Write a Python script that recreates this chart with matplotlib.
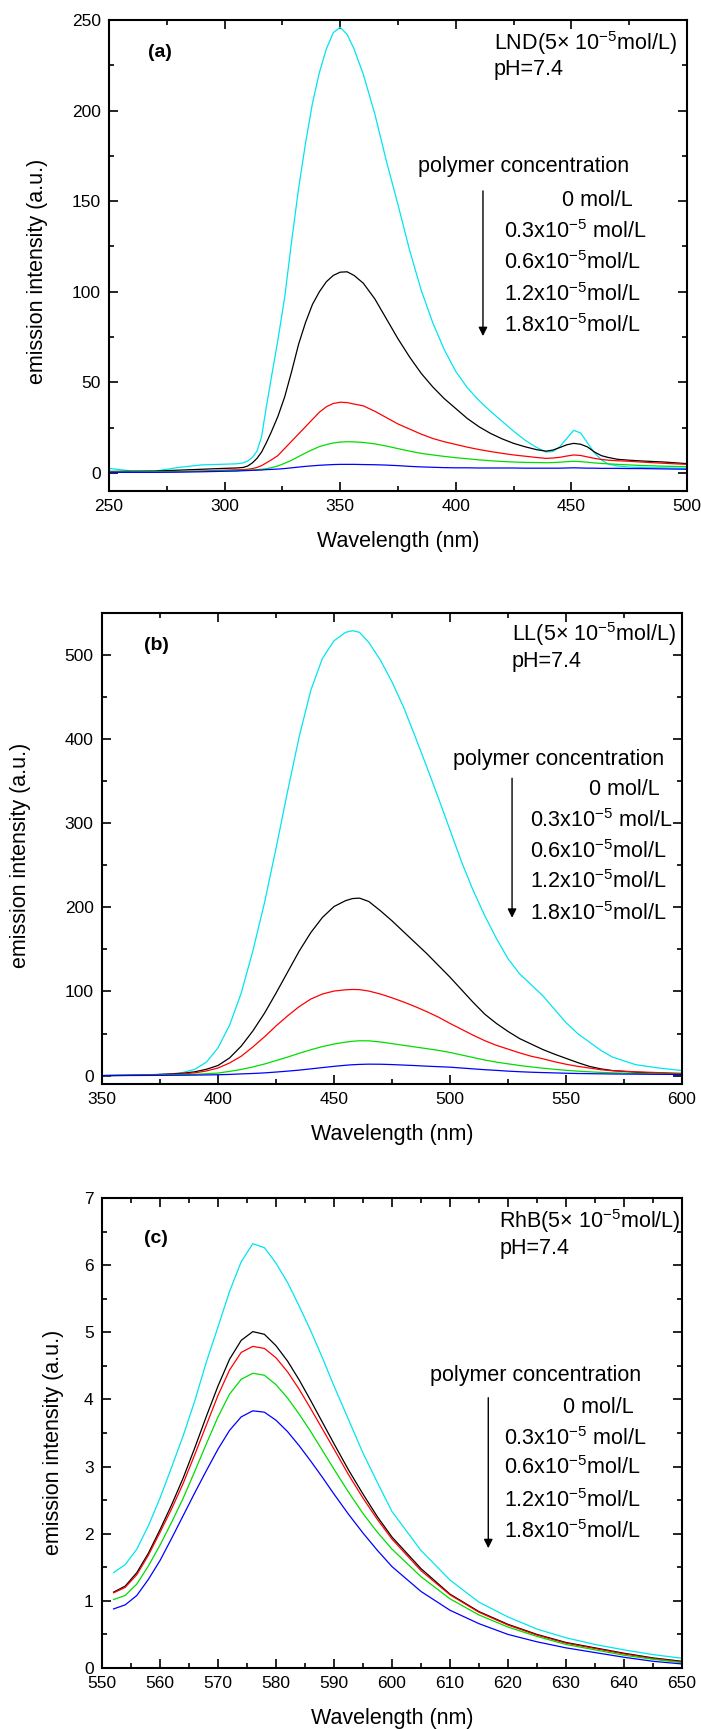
import numpy as np
import matplotlib
matplotlib.use("Agg")
import matplotlib.pyplot as plt
from matplotlib.ticker import MultipleLocator

plt.rcParams['font.family'] = ['Liberation Sans', 'DejaVu Sans']
plt.rcParams['mathtext.fontset'] = 'custom'
plt.rcParams['mathtext.rm'] = 'Liberation Sans'
plt.rcParams['mathtext.it'] = 'Liberation Sans:italic'
plt.rcParams['mathtext.bf'] = 'Liberation Sans:bold'

# ---- data ----
conc_labels = ['0 mol/L', r'0.3x10$^{-5}$ mol/L', r'0.6x10$^{-5}$mol/L',
               r'1.2x10$^{-5}$mol/L', r'1.8x10$^{-5}$mol/L']
series_colors = ['#00e5ee', 'black', 'red', '#00dd00', 'blue']

# (a) LND
wl_a = [250, 260, 270, 280, 290, 300, 305, 308, 310, 312, 314, 316, 318, 320, 323, 326,
        329, 332, 335, 338, 341, 344, 347, 350, 353, 356, 360, 365, 370, 375, 380, 385,
        390, 395, 400, 405, 410, 415, 420, 425, 430, 435, 439, 442, 445, 448, 451, 454,
        457, 460, 463, 466, 470, 475, 480, 490, 500]
lnd_0 = [2.5, 1.0, 1.0, 3.0, 4.4, 4.8, 5.0, 5.5, 6.6, 8.5, 12, 20, 36, 51, 73, 97,
         128, 157, 182, 204, 221, 234, 243, 246, 242, 234, 220, 198, 172, 148, 123, 101,
         83, 68, 56, 47, 40, 34, 28.5, 23, 18, 14, 11.5, 11.8, 14.5, 19, 23.5, 22,
         16.5, 11, 7.2, 4.8, 3.8, 3.2, 3.0, 2.8, 2.5]
lnd_03 = [0.8, 0.9, 1.0, 1.5, 2.0, 2.5, 2.7, 3.0, 3.8, 5.5, 8, 11.5, 16.5, 22, 31, 42,
          56, 71, 83, 93, 100, 105.5, 109, 110.8, 111, 109, 104.7, 96, 85, 74, 64, 55,
          47.5, 41, 35.5, 30, 25.5, 21.8, 18.8, 16.3, 14.4, 12.8, 12.0, 12.6, 14, 15.5, 16.3, 15.8,
          14.3, 11.5, 9.5, 8.5, 7.5, 7.0, 6.6, 6.0, 5.1]
lnd_06 = [0.5, 0.5, 0.6, 0.8, 1.0, 1.5, 1.7, 1.8, 2.0, 2.4, 3.0, 4.0, 5.5, 7.0, 9.5, 13.5,
          17.5, 21.5, 25.5, 29.5, 33.5, 36.5, 38.3, 39, 38.8, 38, 37, 34, 30.5, 27, 24.2, 21.4,
          19, 17.2, 15.7, 14.2, 12.9, 11.8, 10.8, 9.9, 9.2, 8.5, 8.0, 8.2, 8.6, 9.3, 9.9, 9.6,
          8.8, 8.0, 7.4, 7.0, 6.7, 6.4, 6.0, 5.3, 4.7]
lnd_12 = [0.5, 0.5, 0.6, 0.7, 0.9, 1.2, 1.3, 1.4, 1.5, 1.6, 1.8, 2.0, 2.3, 2.8, 3.8, 5.3,
          7, 9, 11, 12.8, 14.5, 15.6, 16.5, 17, 17.2, 17.1, 16.8, 16, 14.8, 13.4, 12, 10.8,
          9.9, 9.1, 8.4, 7.8, 7.2, 6.7, 6.3, 6.0, 5.8, 5.7, 5.6, 5.7, 5.9, 6.2, 6.4, 6.2,
          5.9, 5.5, 5.2, 5.0, 4.7, 4.4, 4.1, 3.7, 3.4]
lnd_18 = [0.3, 0.3, 0.3, 0.4, 0.6, 0.9, 1.0, 1.2, 1.3, 1.4, 1.5, 1.6, 1.8, 1.9, 2.1, 2.4,
          2.8, 3.2, 3.6, 3.9, 4.2, 4.4, 4.6, 4.7, 4.7, 4.7, 4.6, 4.5, 4.3, 4.0, 3.6, 3.3,
          3.1, 2.9, 2.8, 2.8, 2.7, 2.7, 2.7, 2.7, 2.6, 2.6, 2.6, 2.6, 2.6, 2.7, 2.8, 2.7,
          2.6, 2.6, 2.5, 2.5, 2.5, 2.4, 2.4, 2.2, 2.0]

# (b) LL
wl_b = [350, 360, 370, 380, 385, 390, 395, 400, 405, 410, 415, 420, 425, 430, 435, 440,
        445, 450, 455, 458, 461, 465, 470, 475, 480, 485, 490, 495, 500, 505, 510, 515,
        520, 525, 530, 535, 540, 545, 550, 555, 560, 565, 570, 580, 590, 600]
ll_0 = [0, 0.5, 1.0, 2.0, 3.8, 7.5, 16, 33, 60, 98, 148, 205, 270, 338, 403, 458,
        496, 517, 527, 529, 527, 515, 494, 468, 438, 403, 367, 330, 292, 254, 220, 190,
        163, 139, 121, 108, 95, 79, 63, 50, 40, 30, 22, 13, 9, 6]
ll_03 = [0, 0.3, 0.8, 2, 2.8, 4.5, 7.5, 12, 21, 35, 53, 74, 98, 123, 148, 170,
         188, 201, 208, 210.5, 211, 207, 196, 184, 171, 158, 145, 131, 117, 102, 87, 73,
         62, 52.5, 44, 37.5, 31, 25.5, 20.5, 15.5, 11, 8, 6, 4, 3, 2]
ll_06 = [0, 0.2, 0.5, 1.5, 2, 3.3, 5.5, 9, 15, 23, 34, 46, 59, 71, 82, 91,
         97, 100.5, 102, 102.4, 102.2, 100.5, 97, 92.5, 87.5, 82, 76, 69.5, 62, 55, 48, 41.5,
         36, 31.5, 27, 23, 20, 16.5, 13.5, 11, 9, 7, 5.8, 4.5, 3.5, 2.7]
ll_12 = [0, 0.2, 0.4, 0.8, 1.0, 1.5, 2.2, 3, 5, 7.3, 10.3, 13.7, 17.8, 22, 26.5, 30.7,
         34.5, 37.5, 39.8, 40.8, 41.4, 41.3, 40, 38, 36, 34, 32, 30, 27.5, 24.5, 21.5, 18.5,
         16, 14, 12, 10.3, 8.8, 7.5, 6.3, 5.3, 4.5, 3.8, 3.3, 2.6, 2.1, 1.7]
ll_18 = [0, 0.1, 0.2, 0.4, 0.5, 0.6, 0.8, 1.0, 1.4, 2.0, 2.5, 3.2, 4.2, 5.3, 6.5, 8,
         9.5, 11, 12.3, 12.9, 13.3, 13.6, 13.5, 13.1, 12.5, 11.9, 11.2, 10.6, 10, 9, 8, 7,
         6.2, 5.3, 4.6, 4.0, 3.6, 3.2, 2.8, 2.5, 2.3, 2.1, 1.9, 1.7, 1.5, 1.3]

# (c) RhB
wl_c = [552, 554, 556, 558, 560, 562, 564, 566, 568, 570, 572, 574, 576, 578, 580, 582,
        584, 586, 588, 590, 592.5, 595, 597.5, 600, 605, 610, 615, 620, 625, 630, 635, 640,
        645, 650]
rhb_0 = [1.42, 1.54, 1.77, 2.12, 2.53, 2.99, 3.46, 3.98, 4.56, 5.08, 5.61, 6.05, 6.32, 6.26, 6.03, 5.74,
         5.39, 5.02, 4.62, 4.20, 3.70, 3.20, 2.76, 2.33, 1.75, 1.31, 0.98, 0.76, 0.58, 0.45, 0.35, 0.27,
         0.20, 0.145]
rhb_03 = [1.13, 1.22, 1.42, 1.71, 2.06, 2.43, 2.83, 3.28, 3.75, 4.20, 4.60, 4.88, 5.01, 4.97, 4.80, 4.57,
          4.29, 3.98, 3.66, 3.34, 2.95, 2.59, 2.25, 1.95, 1.48, 1.10, 0.84, 0.65, 0.50, 0.38, 0.30, 0.22,
          0.15, 0.10]
rhb_06 = [1.12, 1.20, 1.39, 1.68, 2.02, 2.37, 2.75, 3.18, 3.62, 4.06, 4.44, 4.70, 4.79, 4.76, 4.62, 4.41,
          4.15, 3.86, 3.56, 3.26, 2.88, 2.53, 2.21, 1.92, 1.45, 1.09, 0.83, 0.64, 0.49, 0.37, 0.29, 0.21,
          0.14, 0.09]
rhb_12 = [1.02, 1.08, 1.25, 1.52, 1.83, 2.17, 2.53, 2.93, 3.34, 3.74, 4.08, 4.30, 4.39, 4.36, 4.22, 4.02,
          3.78, 3.52, 3.24, 2.96, 2.62, 2.30, 2.02, 1.77, 1.36, 1.03, 0.79, 0.61, 0.47, 0.35, 0.27, 0.19,
          0.13, 0.08]
rhb_18 = [0.88, 0.94, 1.08, 1.32, 1.60, 1.93, 2.27, 2.61, 2.94, 3.26, 3.54, 3.74, 3.83, 3.81, 3.69, 3.52,
          3.31, 3.08, 2.84, 2.59, 2.29, 2.01, 1.75, 1.51, 1.14, 0.86, 0.66, 0.50, 0.39, 0.30, 0.23, 0.16,
          0.10, 0.06]

panels = [
    dict(tag='(a)', head=r'LND(5$\times$ 10$^{-5}$mol/L)', wl=wl_a,
         ys=[lnd_0, lnd_03, lnd_06, lnd_12, lnd_18],
         xlim=(250, 500), ylim=(-10, 250), xstep=(50, 25), ystep=(50, 25)),
    dict(tag='(b)', head=r'LL(5$\times$ 10$^{-5}$mol/L)', wl=wl_b,
         ys=[ll_0, ll_03, ll_06, ll_12, ll_18],
         xlim=(350, 600), ylim=(-10, 550), xstep=(50, 25), ystep=(100, 50)),
    dict(tag='(c)', head=r'RhB(5$\times$ 10$^{-5}$mol/L)', wl=wl_c,
         ys=[rhb_0, rhb_03, rhb_06, rhb_12, rhb_18],
         xlim=(550, 650), ylim=(0, 7), xstep=(10, 5), ystep=(1, 0.5)),
]

# ---- layout (pixels -> figure / axes fractions) ----
W, H = 701, 1729
axes_px = [(109, 20, 687, 491), (102, 613, 682, 1084), (102, 1198, 682, 1668)]
ylabel_pos = [(-0.123, 0.467), (-0.141, 0.486), (-0.083, 0.481)]
text_pos = [
    dict(tag=(0.067, 0.932), head=(0.666, 0.951), ph=(0.666, 0.894), poly=(0.535, 0.690),
         arr=(0.647, 0.643, 0.323), zero=(0.907, 0.616), left=0.683, rows=[0.550, 0.484, 0.418, 0.352]),
    dict(tag=(0.072, 0.930), head=(0.707, 0.956), ph=(0.707, 0.896), poly=(0.606, 0.690),
         arr=(0.707, 0.655, 0.347), zero=(0.961, 0.626), left=0.738, rows=[0.560, 0.494, 0.429, 0.362]),
    dict(tag=(0.072, 0.913), head=(0.685, 0.952), ph=(0.685, 0.893), poly=(0.566, 0.622),
         arr=(0.666, 0.581, 0.249), zero=(0.916, 0.555), left=0.693, rows=[0.489, 0.426, 0.357, 0.291]),
]

FS = 15.5

fig = plt.figure(figsize=(W / 100, H / 100), dpi=100)

for p, (x0, y0, x1, y1), ylp, tp in zip(panels, axes_px, ylabel_pos, text_pos):
    ax = fig.add_axes([x0 / W, 1 - y1 / H, (x1 - x0) / W, (y1 - y0) / H])
    for y, c in zip(p['ys'], series_colors):
        ax.plot(p['wl'], y, color=c, lw=0.9)

    ax.set_xlim(*p['xlim'])
    ax.set_ylim(*p['ylim'])
    ax.xaxis.set_major_locator(MultipleLocator(p['xstep'][0]))
    ax.xaxis.set_minor_locator(MultipleLocator(p['xstep'][1]))
    ax.yaxis.set_major_locator(MultipleLocator(p['ystep'][0]))
    ax.yaxis.set_minor_locator(MultipleLocator(p['ystep'][1]))
    ax.tick_params(which='both', direction='in', right=True, top=True, width=1.2, labelsize=12.5, pad=6)
    ax.tick_params(which='major', length=6.5)
    ax.tick_params(which='minor', length=3.5)
    for s in ax.spines.values():
        s.set_linewidth(1.5)

    ax.set_xlabel('Wavelength (nm)', fontsize=FS)
    ax.xaxis.set_label_coords(0.5, -0.108)
    ax.xaxis.label.set_verticalalignment('center')
    ax.set_ylabel('emission intensity (a.u.)', fontsize=FS)
    ax.yaxis.set_label_coords(*ylp)
    ax.yaxis.label.set_verticalalignment('center')

    tr = ax.transAxes
    ax.text(*tp['tag'], p['tag'], transform=tr, fontsize=14, fontweight='bold', va='center')
    ax.text(*tp['head'], p['head'], transform=tr, fontsize=FS, va='center')
    ax.text(*tp['ph'], 'pH=7.4', transform=tr, fontsize=FS, va='center')
    ax.text(*tp['poly'], 'polymer concentration', transform=tr, fontsize=FS, va='center')
    ax.text(*tp['zero'], conc_labels[0], transform=tr, fontsize=FS, va='center', ha='right')
    for lab, yy in zip(conc_labels[1:], tp['rows']):
        ax.text(tp['left'], yy, lab, transform=tr, fontsize=FS, va='center')
    ax_x, ay0, ay1 = tp['arr']
    ax.annotate('', xy=(ax_x, ay1), xytext=(ax_x, ay0), xycoords=tr,
                arrowprops=dict(arrowstyle='-|>', color='black', lw=1.0, mutation_scale=13))

fig.savefig('out.png', dpi=100)
